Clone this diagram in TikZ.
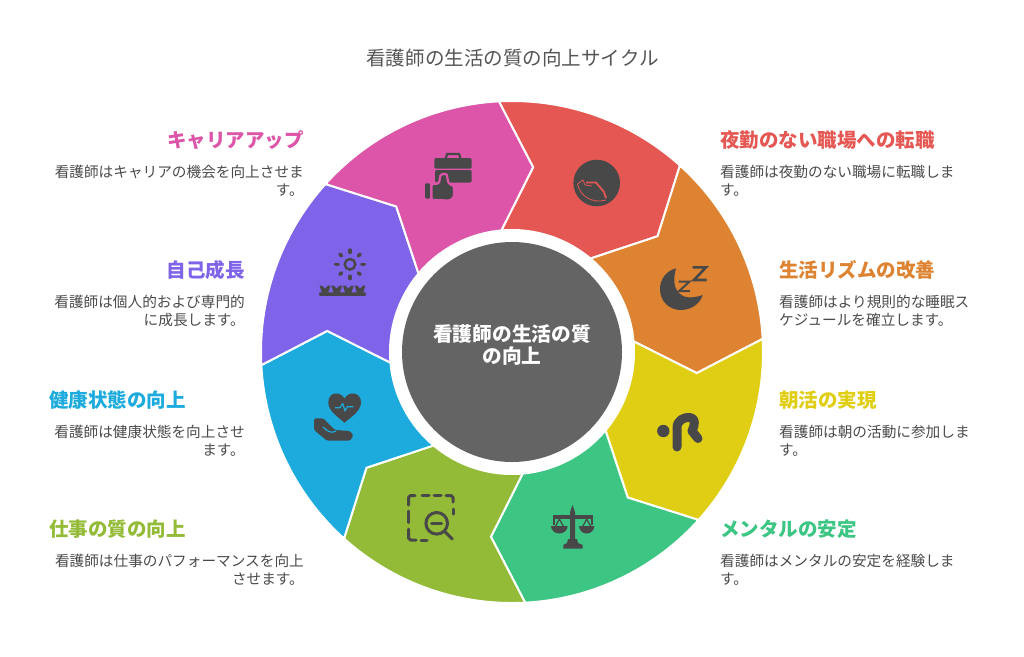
\documentclass[tikz,border=0pt]{standalone}
\usepackage{fontspec}
\setmainfont{Noto Sans CJK JP}
\usetikzlibrary{calc}
\definecolor{cred}{HTML}{E55753}
\definecolor{corange}{HTML}{DE8331}
\definecolor{cyellow}{HTML}{E0CE14}
\definecolor{cgreen}{HTML}{3CC583}
\definecolor{colive}{HTML}{93BB37}
\definecolor{cblue}{HTML}{1DABDD}
\definecolor{cpurple}{HTML}{7F63E8}
\definecolor{cpink}{HTML}{DC55A8}
\definecolor{ccenter}{HTML}{646464}
\definecolor{cicon}{HTML}{484848}
\definecolor{cdesc}{HTML}{4A4A4A}
\definecolor{ctitle}{HTML}{555555}
\tikzset{
  x=1pt,y=-1pt,
  seg/.style={draw=white,line width=2pt,line join=miter},
  head/.style={font=\fontsize{19.5}{22}\selectfont\bfseries,inner sep=0pt},
  headl/.style={head,anchor=east},
  headr/.style={head,anchor=west},
  descl/.style={font=\fontsize{14.65}{17.6}\selectfont,text=cdesc,inner sep=0pt,anchor=north east,align=right},
  descr/.style={font=\fontsize{14.65}{17.6}\selectfont,text=cdesc,inner sep=0pt,anchor=north west,align=left},
  icl/.style={draw=cicon,line cap=round,line join=round,fill=none,line width=3pt},
}
\begin{document}
\begin{tikzpicture}
\useasboundingbox (0,0) rectangle (1024,656);
\coordinate (c) at (512,352);
\def\Seg#1#2{%
  \pgfmathsetmacro\aA{-93+45*#1}%
  \pgfmathsetmacro\aB{\aA+45}%
  \pgfmathsetmacro\tA{-83.5+45*#1}%
  \pgfmathsetmacro\tB{\tA+45}%
  \pgfmathsetmacro\iA{-95+45*#1}%
  \pgfmathsetmacro\iB{\iA+45}%
  \fill[#2,seg] ($(c)+(\aA:251)$) arc[start angle=\aA,end angle=\aB,radius=251]
     -- ($(c)+(\tB:186)$) -- ($(c)+(\iB:122)$)
     arc[start angle=\iB,end angle=\iA,radius=122]
     -- ($(c)+(\tA:186)$) -- cycle;}
\Seg{0}{cred}
\Seg{1}{corange}
\Seg{2}{cyellow}
\Seg{3}{cgreen}
\Seg{4}{colive}
\Seg{5}{cblue}
\Seg{6}{cpurple}
\Seg{7}{cpink}
\node[circle,fill=white,minimum size=244pt,inner sep=0pt] (ring) at (c) {};
\node[circle,fill=ccenter,minimum size=220pt,inner sep=0pt] (hub) at (c) {};
\node[inner sep=0pt,text=white,align=center,font=\fontsize{19.7}{22}\selectfont\bfseries] (hubtext) at (512,345) {看護師の生活の質\\の向上};
\node[font=\fontsize{19.55}{22}\selectfont,text=ctitle,inner sep=0pt] (title) at (512.5,58) {看護師の生活の質の向上サイクル};
% right labels
\node[headr,text=cred] (h1) at (720,140) {夜勤のない職場への転職};
\node[descr] (d1) at (720,165) {看護師は夜勤のない職場に転職しま\\す。};
\node[headr,text=corange] (h2) at (779,270) {生活リズムの改善};
\node[descr] (d2) at (779,295) {看護師はより規則的な睡眠ス\\ケジュールを確立します。};
\node[headr,text=cyellow] (h3) at (779,400) {朝活の実現};
\node[descr] (d3) at (779,425) {看護師は朝の活動に参加しま\\す。};
\node[headr,text=cgreen] (h4) at (720,529) {メンタルの安定};
\node[descr] (d4) at (720,554) {看護師はメンタルの安定を経験しま\\す。};
% left labels
\node[headl,text=cpink] (h8) at (304,140) {キャリアアップ};
\node[descl] (d8) at (304,165) {看護師はキャリアの機会を向上させま\\す。};
\node[headl,text=cpurple] (h7) at (245,270) {自己成長};
\node[descl] (d7) at (245,295) {看護師は個人的および専門的\\に成長します。};
\node[headl,text=cblue] (h6) at (186,400) {健康状態の向上};
\node[descl] (d6) at (245,425) {看護師は健康状態を向上させ\\ます。};
\node[headl,text=colive] (h5) at (186,529) {仕事の質の向上};
\node[descl] (d5) at (304,554) {看護師は仕事のパフォーマンスを向上\\させます。};
% icon: red
\fill[cicon] (596.7,183) circle[radius=23.3];
\draw[cred,line width=0.8pt,line join=round] (577.5,184) -- (583,180) -- (585,185) -- (592,186);
\draw[cred,line width=0.8pt] (577.5,184) .. controls (580,196) and (592,204) .. (606,200);
\draw[cred,line width=1.8pt,line join=round] (586,182.5) -- (596,182.5) -- (604,192) -- (606,198);
% icon: moon
\fill[cicon] (676,268.3) .. controls (666,271) and (660,279) .. (660,289.3)
  .. controls (660,301) and (669,310) .. (680.7,310)
  .. controls (691,310) and (700,304) .. (702.7,295)
  .. controls (680,303) and (670,290) .. (676,268.3) -- cycle;
\draw[cicon,line width=2.6pt,line join=miter] (692.7,267.3) -- (706,267.3) -- (694,280) -- (706.5,280);
\draw[cicon,line width=2pt,line join=miter] (678.7,281.7) -- (689.3,281.7) -- (679.3,291) -- (689.8,291);
% icon: R figure
\fill[cicon] (663.3,431) circle[radius=6.2];
\draw[cicon,line width=9pt,line cap=round,line join=round] (677,447) -- (677,428) .. controls (677,420) and (684,417) .. (690,417.5) .. controls (696,418) and (695,425) .. (692,431) -- (698,438.5);
% icon: scales
\fill[cicon] (570,540) -- (570,512) -- (572.5,505) -- (575,512) -- (575,540) -- cycle;
\fill[cicon] (553,515) rectangle (593,519);
\draw[cicon,line width=1.6pt] (554,515) -- (554,525) (592.2,515) -- (592.2,525);
\fill[cicon] (551,526) arc[start angle=180,end angle=0,x radius=8.3,y radius=7.5] -- cycle;
\fill[cicon] (579,526) arc[start angle=180,end angle=0,x radius=7.7,y radius=7.5] -- cycle;
\draw[cicon,line width=1.2pt] (555.7,526) -- (559.3,519) -- (563.3,526);
\draw[cicon,line width=1.2pt] (583,526) -- (586.7,519) -- (590.4,526);
\fill[cicon] (568,539) -- (577,539) -- (578,543) -- (582.7,545) -- (582.7,548.7) -- (563.3,548.7) -- (563.3,545) -- (567,543) -- cycle;
% icon: dashed square with lens
\draw[icl] (408.5,505) -- (408.5,497.5) -- (410.5,495.5) -- (415,495.5);
\draw[icl] (422,495.5) -- (429,495.5) (434,495.5) -- (441,495.5);
\draw[icl] (446,495.5) -- (451,495.5) -- (453,497.5) -- (453,502);
\draw[icl] (453,509) -- (453,514);
\draw[icl] (408.5,511) -- (408.5,522.5);
\draw[icl] (408.5,529) -- (408.5,538) -- (410.5,540) -- (416,540);
\draw[icl] (421,540) -- (427,540);
\draw[icl] (436.7,523.3) circle[radius=10.8];
\draw[icl] (431.7,523.3) -- (441.7,523.3);
\draw[icl] (445,531.7) -- (452.3,539);
% icon: sun and grass
\draw[cicon,line width=2.4pt] (350,264.3) circle[radius=5.3];
\foreach \a in {0,45,...,315}{
  \draw[cicon,line width=3.6pt,line cap=round] ($(350,264.3)+(\a:12)$) -- ($(350,264.3)+(\a:14.2)$);
}
\fill[cicon,rounded corners=1pt] (319,292.3) rectangle (366,295.8);
\foreach \p in {325,336.7,348.3,360}{
  \fill[cicon] (\p-5.5,285.5) -- (\p-3,285.5) -- (\p,288.5) -- (\p+3,285.5) -- (\p+5.5,285.5) -- (\p+3,293) -- (\p-3,293) -- cycle;
}
% icon: heart and hand
\fill[cicon] (344.5,422.7) .. controls (338,417) and (328.3,411) .. (328.3,402.5)
  .. controls (328.3,392) and (340,390.5) .. (344.5,398.5)
  .. controls (349,390.5) and (361,392) .. (361,402.5)
  .. controls (361,411) and (351,417) .. (344.5,422.7) -- cycle;
\draw[cblue,line width=1.2pt,line join=round] (335,407.7) -- (340,407.7) -- (342.7,403.5) -- (345,411) -- (347.3,406.7) -- (353.3,406.7);
\fill[cicon,rounded corners=1.5pt] (314,418.3) -- (323.3,418.3) -- (335,430) -- (350,431) -- (353.5,435.5) -- (350,440.7) -- (327,440.7) -- (314,430) -- cycle;
\draw[cblue,line width=1.2pt,line cap=round] (323,427) .. controls (327,431) and (331,434) .. (336,431);
% icon: briefcase and thumb
\draw[cicon,line width=2.2pt] (446,158) -- (447,154) -- (459,154) -- (460.5,158);
\fill[cicon,rounded corners=2pt] (434.3,158) rectangle (471.7,168.7);
\fill[cicon,rounded corners=2pt] (435,170) rectangle (471.7,182.5);
\fill[cicon,rounded corners=1pt] (425,183.3) rectangle (430,198.5);
\filldraw[cicon,draw=cpink,line width=2.2pt,rounded corners=1.5pt] (431.5,184) -- (439,183.5) -- (440.5,174.5) -- (446.5,173.5) -- (448.5,183.5) -- (454,186) -- (454,197) -- (450,200.5) -- (431.5,200) -- cycle;
\end{tikzpicture}
\end{document}
